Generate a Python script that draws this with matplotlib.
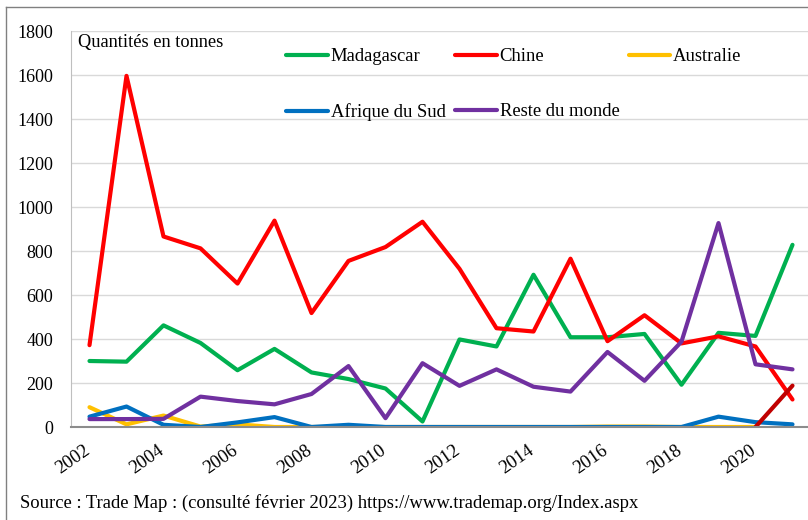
import matplotlib
matplotlib.use('Agg')
import matplotlib.pyplot as plt
from matplotlib.lines import Line2D
from matplotlib.transforms import ScaledTranslation
import numpy as np

plt.rcParams['font.family'] = ['Liberation Serif', 'DejaVu Serif']
plt.rcParams['font.size'] = 13

years = list(range(2002, 2022))

madagascar = [300, 297, 462, 382, 258, 355, 248, 218, 175, 25,
              398, 366, 692, 408, 408, 423, 192, 428, 414, 828]
chine = [372, 1596, 866, 812, 652, 938, 518, 755, 818, 933,
         719, 449, 434, 765, 390, 508, 380, 412, 366, 125]
australie = [90, 12, 52, 2, 12, 0, 0, 0, 0, 0,
             0, 0, 0, 0, 2, 2, 0, 0, 0, np.nan]
afrique_du_sud = [47, 93, 10, 0, 21, 45, 0, 10, 0, 0,
                  0, 0, 0, 0, 0, 0, 0, 47, 22, 12]
reste_du_monde = [36, 36, 37, 138, 118, 103, 150, 277, 40, 290,
                  187, 262, 183, 161, 341, 210, 388, 927, 285, 262]
# serie sans legende (rouge fonce), seulement 2020-2021
autre = [np.nan] * 18 + [0, 188]

series = [
    ('Madagascar', madagascar, '#00b050'),
    ('Chine', chine, '#ff0000'),
    ('Australie', australie, '#ffc000'),
    ('Afrique du Sud', afrique_du_sud, '#0070c0'),
    ('Reste du monde', reste_du_monde, '#7030a0'),
    (None, autre, '#c00000'),
]

W, H = 808, 520
fig = plt.figure(figsize=(W / 100, H / 100), dpi=100)
ax = fig.add_axes([71 / W, (H - 427) / H, (W - 71) / W, 396 / H])

for name, vals, col in series:
    ax.plot(years, vals, color=col, lw=3, solid_capstyle='round',
            solid_joinstyle='round', label=name)

ax.set_xlim(2001.5, 2001.5 + 737 / 37.0)
ax.set_ylim(0, 1800)
ax.set_yticks(range(0, 1801, 200))
ax.set_xticks(range(2002, 2021, 2))
ax.tick_params(axis='both', length=0)
ax.tick_params(axis='y', pad=13, labelsize=13)
ax.tick_params(axis='x', pad=11, labelsize=13.4)
shift = ScaledTranslation(4 / 100, 0, fig.dpi_scale_trans)
for lab in ax.get_xticklabels():
    lab.set_rotation(35)
    lab.set_ha('right')
    lab.set_va('top')
    lab.set_transform(lab.get_transform() + shift)

ax.grid(axis='y', color='#d9d9d9', lw=1)
ax.set_axisbelow(True)
for s in ['top', 'right']:
    ax.spines[s].set_visible(False)
ax.spines['left'].set_color('#bfbfbf')
ax.spines['bottom'].set_color('#8c8c8c')
ax.spines['bottom'].set_linewidth(1.5)

fig.text(78 / W, 1 - 43 / H, 'Quantités en tonnes', va='center', ha='left', fontsize=13.2)

# legende : ordre colonne par colonne
order = [0, 3, 1, 4, 2]
handles = [Line2D([], [], color=series[i][2], lw=3, solid_capstyle='round') for i in order]
labels = [series[i][0] for i in order]
fig.legend(handles, labels, loc='upper left', bbox_to_anchor=(286 / W, 1 - 48 / H),
           ncol=3, frameon=False, borderpad=0, borderaxespad=0, handlelength=2.25,
           handletextpad=0.15, columnspacing=0.5, labelspacing=2.05, fontsize=13.4)

fig.text(20 / W, 1 - 503 / H,
         'Source : Trade Map : (consulté février 2023) https://www.trademap.org/Index.aspx',
         va='center', ha='left', fontsize=13.4)

# cadre exterieur
fig.add_artist(Line2D([6 / W, 1], [1 - 7 / H, 1 - 7 / H], color='#808080', lw=1))
fig.add_artist(Line2D([6 / W, 6 / W], [0, 1 - 7 / H], color='#808080', lw=1))

fig.savefig('out.png', dpi=100, facecolor='white')
